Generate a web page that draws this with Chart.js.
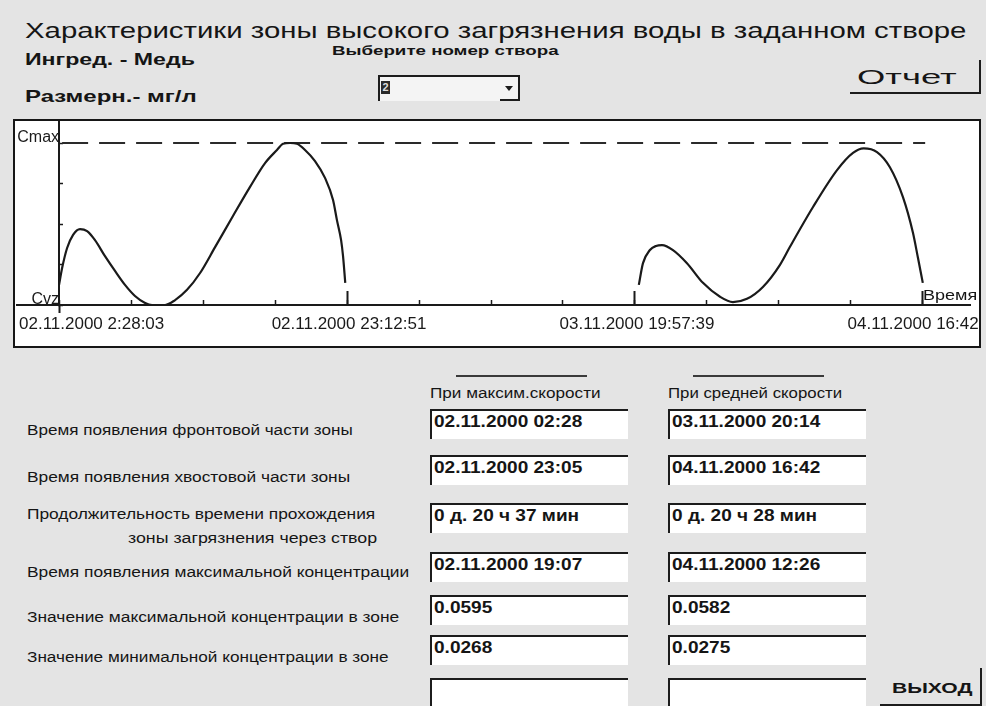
<!DOCTYPE html>
<html lang="ru">
<head>
<meta charset="utf-8">
<title>Характеристики зоны высокого загрязнения воды в заданном створе</title>
<script src="https://cdn.jsdelivr.net/npm/chart.js@4.4.1/dist/chart.umd.min.js"></script>
<style>
  html, body { margin: 0; padding: 0; }
  body { width: 986px; height: 706px; overflow: hidden; position: relative;
         background: #e4e4e4; font-family: 'Liberation Sans', Arial, sans-serif; color: #151515; }
  .lbl { position: absolute; white-space: nowrap; line-height: 1; transform-origin: 0 50%; }
  #chartBox { position: absolute; left: 13px; top: 119px; width: 968px; height: 229px;
              box-sizing: border-box; border: 2px solid #161616; background: #fff; }
  #chartBox canvas { display: block; }
  .field { position: absolute; width: 198px; height: 30px; background: #fff; box-sizing: border-box;
           border-top: 2px solid #1c1c1c; border-left: 2px solid #1c1c1c; }
  .btn { position: absolute; box-sizing: border-box;
         border-right: 2px solid #1c1c1c; border-bottom: 2px solid #1c1c1c; }
  .rule { position: absolute; height: 0; border-top: 2px solid #3a3a3a; }
  #combo { position: absolute; left: 378px; top: 75px; width: 142px; height: 26px; box-sizing: border-box;
           background: #f4f4f4; border-top: 2px solid #1c1c1c; border-left: 2px solid #1c1c1c; }
  #comboSel { position: absolute; left: 1px; top: 4px; width: 9px; height: 13px; background: #2a2a2a;
              color: #ddd; font: bold 11px 'Liberation Sans', Arial, sans-serif; line-height: 13px; text-align: center; }
  #comboBtn { position: absolute; right: 0; top: 0; width: 20px; height: 24px; box-sizing: border-box;
              border-right: 2px solid #1c1c1c; border-bottom: 2px solid #1c1c1c; }
  #comboBtn::after { content: ''; position: absolute; left: 5px; top: 9px; border-left: 4px solid transparent;
                     border-right: 4px solid transparent; border-top: 5px solid #1c1c1c; }
</style>
</head>
<body>
<div id="chartBox"><canvas id="zoneChart" width="964" height="225"></canvas></div>
<div id="combo"><div id="comboSel">2</div><div id="comboBtn"></div></div>
<div class="btn" style="left:850px; top:60px; width:131px; height:34px;"></div>
<div class="btn" style="left:880px; top:668px; width:102px; height:38px;"></div>
<div class="rule" style="left:456px; top:375px; width:131px;"></div>
<div class="rule" style="left:693px; top:375px; width:131px;"></div>

<script>
// --- данные графика (время в часах от 02.11.2000 2:28:03, концентрация в мг/л) ---
const CVZ = 0.020;       // уровень Cvz (низ оси)
const CMAX = 0.0595;     // уровень Cmax (пунктир)
const STEP_H = 5.18667;  // шаг делений оси времени: 5 ч 11 мин 12 с

// при максимальной скорости
const timeMax = [0, 0.22, 0.58, 1.01, 1.51, 2.02, 2.59, 3.31, 4.03, 4.75, 5.47, 6.20, 6.70, 7.64,
                 8.36, 9.22, 10.16, 11.24, 12.53, 13.76, 14.84, 15.70, 16.14, 16.64, 17.14, 17.72,
                 18.44, 19.16, 19.74, 20.02, 20.32, 20.46, 20.62];
const concMax = [0.0249, 0.0290, 0.0339, 0.0371, 0.0385, 0.0380, 0.0358, 0.0319, 0.0283, 0.0249, 0.0222,
                 0.0205, 0.0200, 0.0200, 0.0212, 0.0237, 0.0278, 0.0341, 0.0417, 0.0488, 0.0546, 0.0578,
                 0.0593, 0.0595, 0.0593, 0.0578, 0.0551, 0.0510, 0.0456, 0.0407, 0.0358, 0.0319, 0.0254];

// при средней скорости
const timeAvg = [41.77, 42.07, 42.57, 43.01, 43.44, 44.23, 45.24, 46.39, 47.62, 48.55, 49.56, 50.71,
                 51.94, 52.66, 54.32, 56.05, 57.20, 57.97, 58.93, 59.86, 60.80, 61.52, 61.88, 62.23];
const concAvg = [0.0249, 0.0302, 0.0334, 0.0344, 0.0346, 0.0334, 0.0302, 0.0254, 0.0220, 0.0207, 0.0215,
                 0.0244, 0.0298, 0.0342, 0.0439, 0.0529, 0.0571, 0.0582, 0.0573, 0.0536, 0.0463, 0.0376,
                 0.0315, 0.0254];

const timeTickLabels = ['02.11.2000 2:28:03', '02.11.2000 23:12:51', '03.11.2000 19:57:39', '04.11.2000 16:42:27'];
const majorTicks = [4, 8, 12];               // подписанные деления (длинные риски)
const yTickLabels = ['Cvz', '', '', '', 'Cmax'];
const refLineTime = [0.22, 62.4];            // пунктир Cmax

// --- данные формы ---
const rowTitles = ['Время появления фронтовой части зоны', 'Время появления хвостовой части зоны',
                   'Продолжительность времени прохождения', 'Время появления максимальной концентрации',
                   'Значение максимальной концентрации в зоне', 'Значение минимальной концентрации в зоне'];
const maxSpeedValues = ['02.11.2000 02:28', '02.11.2000 23:05', '0 д. 20 ч 37 мин', '02.11.2000 19:07', '0.0595', '0.0268', ''];
const avgSpeedValues = ['03.11.2000 20:14', '04.11.2000 16:42', '0 д. 20 ч 28 мин', '04.11.2000 12:26', '0.0582', '0.0275', ''];

// подпись с подгонкой ширины под оригинал
function addText(text, x, cy, size, bold, w, k) {
    const el = document.createElement('div');
    el.className = 'lbl';
    el.textContent = text;
    el.style.left = x + 'px';
    el.style.top = cy + 'px';
    el.style.fontSize = size + 'px';
    if (bold) el.style.fontWeight = 'bold';
    document.body.appendChild(el);
    const sx = w ? w / el.offsetWidth : (k || 1);
    el.style.transform = 'translateY(-50%) scaleX(' + sx.toFixed(3) + ')';
    return el;
}

addText('Характеристики зоны высокого загрязнения воды в заданном створе', 25, 31, 22, false, 942);
addText('Ингред. - Медь', 25, 59, 17, true, 170);
addText('Размерн.- мг/л', 25, 96, 17, true, 172);
addText('Выберите номер створа', 332, 51, 12, true, 226);
addText('Отчет', 857, 77, 20, false, 100);
addText('ВЫХОД', 892, 687, 15, true, 80);

addText('При максим.скорости', 430, 393, 14, false, 170);
addText('При средней скорости', 668, 393, 14, false, 174);

// строки таблицы
const rowLabelY = [430, 477, 514, 572, 617, 657];
const rowLabelW = [326, 323, 348, 383, 372, 362];
rowTitles.forEach((t, i) => addText(t, 27, rowLabelY[i], 14, false, rowLabelW[i]));
addText('зоны загрязнения через створ', 128, 538, 14, false, 249);

const fieldTop = [409, 455, 503, 552, 595, 635, 678];
fieldTop.forEach((top, i) => {
    [[430, maxSpeedValues], [668, avgSpeedValues]].forEach(([left, vals]) => {
        const f = document.createElement('div');
        f.className = 'field';
        f.style.left = left + 'px';
        f.style.top = top + 'px';
        document.body.appendChild(f);
        if (vals[i]) addText(vals[i], left + 4, top + 12, 17, true, 0, 1.12);
    });
});

addText('Время', 923, 294, 15, false, 54);

// --- график ---
const X_MIN = -3.03;
const X_MAX = 65.63;
const Y_MAX = CMAX + (CMAX - CVZ) * 22 / 162;

const xTickValues = [X_MIN];
for (let k = 0; k <= 12; k++) xTickValues.push(k * STEP_H);
xTickValues.push(X_MAX);
const yTickValues = yTickLabels.map((_, i) => CVZ + i * (CMAX - CVZ) / 4);

const ink = '#1a1a1a';
const tickFont = { family: "'Liberation Sans', Arial, sans-serif", size: 17 };

new Chart(document.getElementById('zoneChart'), {
    type: 'scatter',
    data: {
        datasets: [
            {
                label: 'При максим. скорости',
                data: timeMax.map((t, i) => ({ x: t, y: concMax[i] })),
                showLine: true,
                borderColor: ink,
                borderWidth: 2.2,
                pointRadius: 0,
                cubicInterpolationMode: 'monotone'
            },
            {
                label: 'При средней скорости',
                data: timeAvg.map((t, i) => ({ x: t, y: concAvg[i] })),
                showLine: true,
                borderColor: ink,
                borderWidth: 2.2,
                pointRadius: 0,
                cubicInterpolationMode: 'monotone'
            },
            {
                label: 'Cmax',
                data: refLineTime.map(t => ({ x: t, y: CMAX })),
                showLine: true,
                borderColor: '#2a2a2a',
                borderWidth: 2,
                borderDash: [26, 11],
                pointRadius: 0
            }
        ]
    },
    options: {
        responsive: false,
        animation: false,
        events: [],
        layout: { padding: { left: 2, right: 9, top: 0, bottom: 0 } },
        plugins: { legend: { display: false }, tooltip: { enabled: false } },
        scales: {
            x: {
                type: 'linear',
                min: X_MIN,
                max: X_MAX,
                afterBuildTicks: s => { s.ticks = xTickValues.map(v => ({ value: v })); },
                // высота полосы подписей и без лишних боковых отступов
                afterFit: s => { s.height = 41; s.paddingLeft = 0; s.paddingRight = 0; },
                ticks: {
                    autoSkip: false,
                    maxRotation: 0,
                    align: 'inner',
                    padding: 14,
                    labelOffset: 2,
                    color: ink,
                    font: tickFont,
                    callback: (v, i) => {
                        if (i === 0) return timeTickLabels[0];
                        const k = majorTicks.indexOf(i - 1);
                        return k >= 0 ? timeTickLabels[k + 1] : '';
                    }
                },
                grid: {
                    drawOnChartArea: false,
                    tickLength: -5,
                    tickWidth: 1.5,
                    tickColor: c => (c.index === 0 || c.index === xTickValues.length - 1) ? 'transparent' : ink
                },
                border: { color: ink, width: 2 }
            },
            // длинные риски у подписанных делений
            x2: {
                type: 'linear',
                min: X_MIN,
                max: X_MAX,
                position: { y: CVZ },
                afterBuildTicks: s => { s.ticks = majorTicks.map(k => ({ value: k * STEP_H })); },
                afterFit: s => { s.paddingLeft = 0; s.paddingRight = 0; },
                ticks: { display: false },
                grid: { drawOnChartArea: false, tickLength: -14, tickWidth: 2, tickColor: ink },
                border: { display: false }
            },
            // продолжение оси Y под осью времени
            x3: {
                type: 'linear',
                min: X_MIN,
                max: X_MAX,
                position: { y: CVZ },
                afterBuildTicks: s => { s.ticks = [{ value: 0 }]; },
                afterFit: s => { s.paddingLeft = 0; s.paddingRight = 0; },
                ticks: { display: false },
                grid: { drawOnChartArea: false, tickLength: 8, tickWidth: 2, tickColor: ink },
                border: { display: false }
            },
            y: {
                type: 'linear',
                min: CVZ,
                max: Y_MAX,
                position: { x: 0 },
                afterBuildTicks: s => { s.ticks = yTickValues.map(v => ({ value: v })); },
                afterFit: s => { s.paddingTop = 0; s.paddingBottom = 0; },
                ticks: {
                    autoSkip: false,
                    labelOffset: -5,
                    padding: 0,
                    color: ink,
                    font: { family: "'Liberation Sans', Arial, sans-serif", size: 16 },
                    callback: (v, i) => yTickLabels[i]
                },
                grid: { drawOnChartArea: false, tickLength: -5, tickWidth: 1.5, tickColor: ink },
                border: { color: ink, width: 2 }
            }
        }
    }
});
</script>
</body>
</html>
